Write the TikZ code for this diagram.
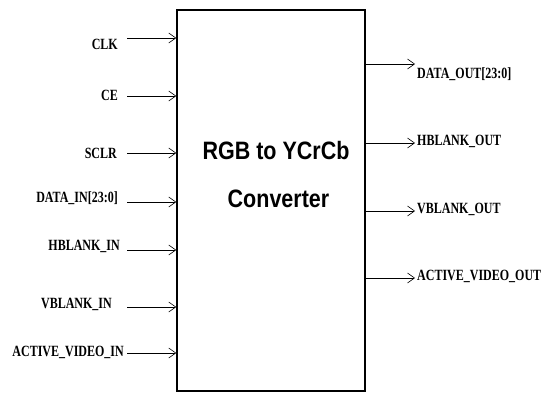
\documentclass[tikz,border=0pt]{standalone}
\usepackage{graphicx}
\usepackage{fontspec}
\setmainfont{Liberation Serif}
\newfontfamily\boxfont{Liberation Sans}
\usetikzlibrary{positioning,arrows.meta,calc}

% labels in the reference are set a little taller than wide
\newcommand{\tallsig}[1]{\scalebox{1}[1.3]{#1}}

\tikzset{
  sig/.style={-{Straight Barb[length=7pt,width=10pt]}, line width=0.6pt},
  portlbl/.style={font=\fontsize{12}{14}\selectfont\bfseries, inner sep=0pt},
  titlelbl/.style={font=\boxfont\bfseries\fontsize{21.5}{26}\selectfont, inner sep=0pt},
  blockbox/.style={draw, line width=1.5pt, inner sep=0pt, minimum width=188pt, minimum height=381pt}
}

\begin{document}
\begin{tikzpicture}[x=1pt,y=1pt]
  \useasboundingbox (0,0) rectangle (550,392);

  \node[blockbox] (box) at (271,191.5) {};
  \node[titlelbl] (title1) at (276,241) {\scalebox{1}[1.17]{RGB to YCrCb}};
  \node[titlelbl] (title2) at (278.5,193) {\scalebox{1}[1.17]{Converter}};

  % inputs
  \node[portlbl, anchor=east] (clk) at (118,347.5) {\tallsig{CLK}};
  \node[portlbl, anchor=east] (ce) at (118,297) {\tallsig{CE}};
  \node[portlbl, anchor=east] (sclr) at (117,239) {\tallsig{SCLR}};
  \node[portlbl, anchor=east] (din) at (118,194) {\tallsig{DATA\_IN[23:0]}};
  \node[portlbl, anchor=east] (hbin) at (120,146) {\tallsig{HBLANK\_IN}};
  \node[portlbl, anchor=east] (vbin) at (112,88) {\tallsig{VBLANK\_IN}};
  \node[portlbl, anchor=east] (avin) at (124,40) {\tallsig{ACTIVE\_VIDEO\_IN}};

  \coordinate (clkS) at (127,354);
  \coordinate (ceS) at (127,296);
  \coordinate (sclrS) at (127,239);
  \coordinate (dinS) at (127,190);
  \coordinate (hbinS) at (127,142);
  \coordinate (vbinS) at (127,85);
  \coordinate (avinS) at (127,39);

  \draw[sig] (clkS) -- (clkS -| box.west);
  \draw[sig] (ceS) -- (ceS -| box.west);
  \draw[sig] (sclrS) -- (sclrS -| box.west);
  \draw[sig] (dinS) -- (dinS -| box.west);
  \draw[sig] (hbinS) -- (hbinS -| box.west);
  \draw[sig] (vbinS) -- (vbinS -| box.west);
  \draw[sig] (avinS) -- (avinS -| box.west);

  % outputs
  \coordinate (doutE) at (415,328);
  \coordinate (hboutE) at (415,249);
  \coordinate (vboutE) at (415,181);
  \coordinate (avoutE) at (415,114);

  \draw[sig] (doutE -| box.east) -- (doutE);
  \draw[sig] (hboutE -| box.east) -- (hboutE);
  \draw[sig] (vboutE -| box.east) -- (vboutE);
  \draw[sig] (avoutE -| box.east) -- (avoutE);

  \node[portlbl, anchor=west] (dout) at (417,318) {\tallsig{DATA\_OUT[23:0]}};
  \node[portlbl, anchor=west] (hbout) at (417,251) {\tallsig{HBLANK\_OUT}};
  \node[portlbl, anchor=west] (vbout) at (417,183) {\tallsig{VBLANK\_OUT}};
  \node[portlbl, anchor=west] (avout) at (417,116) {\tallsig{ACTIVE\_VIDEO\_OUT}};
\end{tikzpicture}
\end{document}
